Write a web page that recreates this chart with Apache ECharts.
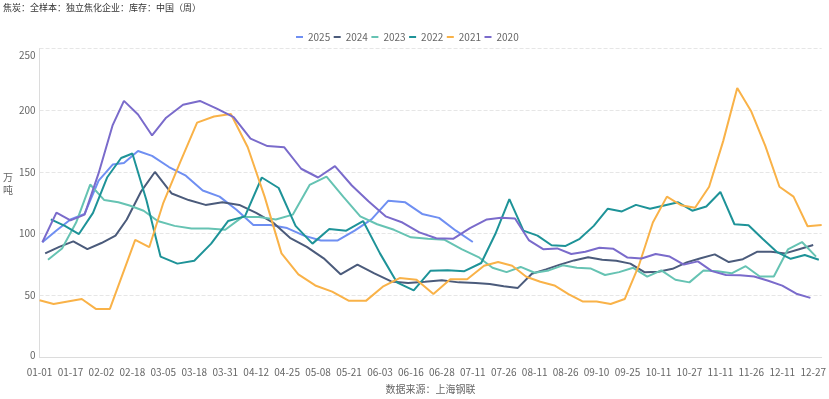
<!DOCTYPE html>
<html><head><meta charset="utf-8">
<script src="https://cdn.jsdelivr.net/npm/echarts@6/dist/echarts.min.js"></script>
<style>html,body{margin:0;padding:0;background:#fff}#c{width:829px;height:399px}</style>
</head><body><div id="c"></div>
<script>
// Series names (legend order) and colours
const seriesNames = ['2025', '2024', '2023', '2022', '2021', '2020'];
const seriesColors = ['#6f8ff2', '#4b5b7b', '#66c3b3', '#1e9398', '#f9b248', '#7a6bcb'];

// Weekly values (万吨), one per Friday of each year
const v2025 = [93, 102.5, 111.5, 116, 143, 156, 157.3, 167, 163, 154, 147, 135, 130, 119.4, 107, 107, 104.5, 98.4, 94.5, 94.5, 102.4, 111.5, 126.7, 125.4, 116, 112.8, 102.4, 93.2];
const v2024 = [84, 89.3, 93.7, 87.4, 92.4, 98.4, 111.5, 133.8, 150, 132.5, 127.2, 123.3, 125.4, 123.3, 116.8, 109, 96.6, 89.3, 80, 67, 74.9, 67.8, 61.3, 60, 61, 62.3, 60.5, 60, 59.2, 57.3, 56, 67.5, 71, 74.9, 78.3, 80.9, 78.8, 78, 75.7, 68.8, 69.1, 71.5, 76.7, 80.1, 83.2, 77, 79.3, 85.3, 85.3, 84, 87.4, 90.8];
const v2023 = [78.8, 88, 109, 139.8, 127.2, 125.4, 122.8, 118.6, 110.2, 106.3, 104.2, 104.2, 103.1, 113.4, 113.4, 111.5, 115.4, 139.5, 146.3, 129.8, 114, 107.6, 103.1, 97, 95.8, 95, 87.4, 81, 72.3, 68.8, 73, 68.3, 70.2, 74.3, 72.3, 71.7, 66.5, 68.8, 72.3, 65.2, 70.2, 62.6, 60.5, 70.2, 69.6, 67.8, 73.6, 65.2, 65.2, 87.2, 93.2, 81.4];
const v2022 = [111.5, 106.3, 99.7, 116.8, 145.5, 161.3, 165, 127, 81.4, 75.7, 78, 91.9, 110.2, 114, 145.5, 137, 106.3, 91.9, 103.7, 102.4, 110.2, 84, 60.5, 54, 70, 70.4, 69.6, 76.2, 99.7, 128, 102.4, 98.4, 90.6, 90, 95.8, 106.3, 120.2, 118, 123.3, 120.2, 122.8, 125.4, 118.6, 122, 133.8, 107.6, 106.8, 95.8, 85.3, 79.6, 82.7, 78.8];
const v2021 = [46, 43, 45, 47, 39, 39, 95, 89, 125, 158, 190, 195, 197, 170, 130, 84, 67, 58, 53, 45.5, 45.5, 57, 64, 62.6, 51, 63, 63, 74, 77, 74, 65, 61, 58, 51, 45, 45, 43, 47, 74, 109, 130, 123, 121, 138, 175, 218, 199, 171, 138, 130, 106, 107];
const v2020 = [93, 117, 110.7, 115.4, 149, 188, 207.6, 196.6, 179.6, 194, 204.5, 207.6, 201.3, 194.5, 177, 171, 170, 152.6, 145.5, 154.7, 139, 126, 114, 109, 101, 96.3, 95.8, 104.5, 111.5, 112.8, 112.3, 94.5, 87.4, 88, 83.5, 85.3, 88.5, 87.7, 80.6, 79.8, 83.5, 81.4, 74.9, 77.5, 69.6, 66.5, 66.2, 65.2, 61.8, 57.9, 51.3, 47.9];
const seriesValues = [v2025, v2024, v2023, v2022, v2021, v2020];

// Report dates are Fridays; this one was not published (Spring Festival)
const skippedDates = ['2021-02-12'];

function pad(n) { return (n < 10 ? '0' : '') + n; }
function weeklyDates(year, count) {
  const out = [];
  const d = new Date(Date.UTC(+year, 0, 1));
  while (d.getUTCDay() !== 5) d.setUTCDate(d.getUTCDate() + 1);
  while (d.getUTCFullYear() === +year) {
    const md = pad(d.getUTCMonth() + 1) + '-' + pad(d.getUTCDate());
    if (skippedDates.indexOf(year + '-' + md) < 0) out.push(md);
    d.setUTCDate(d.getUTCDate() + 7);
  }
  return out.slice(0, count);
}
const seriesDates = seriesNames.map((y, i) => weeklyDates(y, seriesValues[i].length));
const categories = Array.from(new Set([].concat(...seriesDates))).sort();

const font = 'Noto Sans CJK SC';
const chart = echarts.init(document.getElementById('c'));
chart.setOption({
  animation: false,
  color: seriesColors,
  textStyle: { fontFamily: font },
  title: {
    text: '焦炭：全样本：独立焦化企业：库存：中国（周）',
    left: 3, top: 3, padding: 0,
    textStyle: { fontSize: 9, fontWeight: 'normal', color: '#333', fontFamily: font }
  },
  legend: {
    data: seriesNames,
    left: 291, top: 27,
    icon: 'rect',
    itemWidth: 7, itemHeight: 2, itemGap: 3.5,
    textStyle: { fontSize: 10, color: '#666', fontFamily: font }
  },
  grid: { left: 35, right: 5, top: 48.6, bottom: 32, containLabel: false },
  xAxis: {
    type: 'category',
    data: categories,
    boundaryGap: false,
    name: '数据来源：上海钢联',
    nameLocation: 'middle',
    nameGap: 27,
    nameTextStyle: { fontSize: 10, color: '#666', fontFamily: font },
    axisLine: { lineStyle: { color: '#dcdcdc' } },
    axisTick: { show: false },
    axisLabel: { interval: 10, fontSize: 10, color: '#666', margin: 10, fontFamily: font },
    splitLine: { show: false }
  },
  yAxis: {
    type: 'value',
    min: 0, max: 250, interval: 50,
    name: '万\n吨\n \n \n ',
    nameLocation: 'middle',
    nameRotate: 0,
    nameGap: 22,
    nameTextStyle: { fontSize: 10, lineHeight: 13, color: '#666', fontFamily: font },
    axisLine: { show: true, lineStyle: { color: '#dcdcdc' } },
    axisTick: { show: false },
    axisLabel: {
      fontSize: 10, color: '#666', margin: 4, fontFamily: font,
      formatter: v => v === 250 ? '{top|250}' : (v === 0 ? '{bot|0}' : String(v)),
      rich: {
        top: { fontSize: 10, color: '#666', padding: [14, 0, 0, 0], fontFamily: font },
        bot: { fontSize: 10, color: '#666', padding: [0, 0, 4, 0], fontFamily: font }
      }
    },
    splitLine: { lineStyle: { type: 'dashed', color: '#e6e6e6' } }
  },
  series: seriesNames.map((name, i) => ({
    name: name,
    type: 'line',
    showSymbol: false,
    symbol: 'none',
    lineStyle: { width: 2 },
    data: seriesValues[i].map((v, k) => [categories.indexOf(seriesDates[i][k]), v])
  }))
});
</script>
</body></html>
